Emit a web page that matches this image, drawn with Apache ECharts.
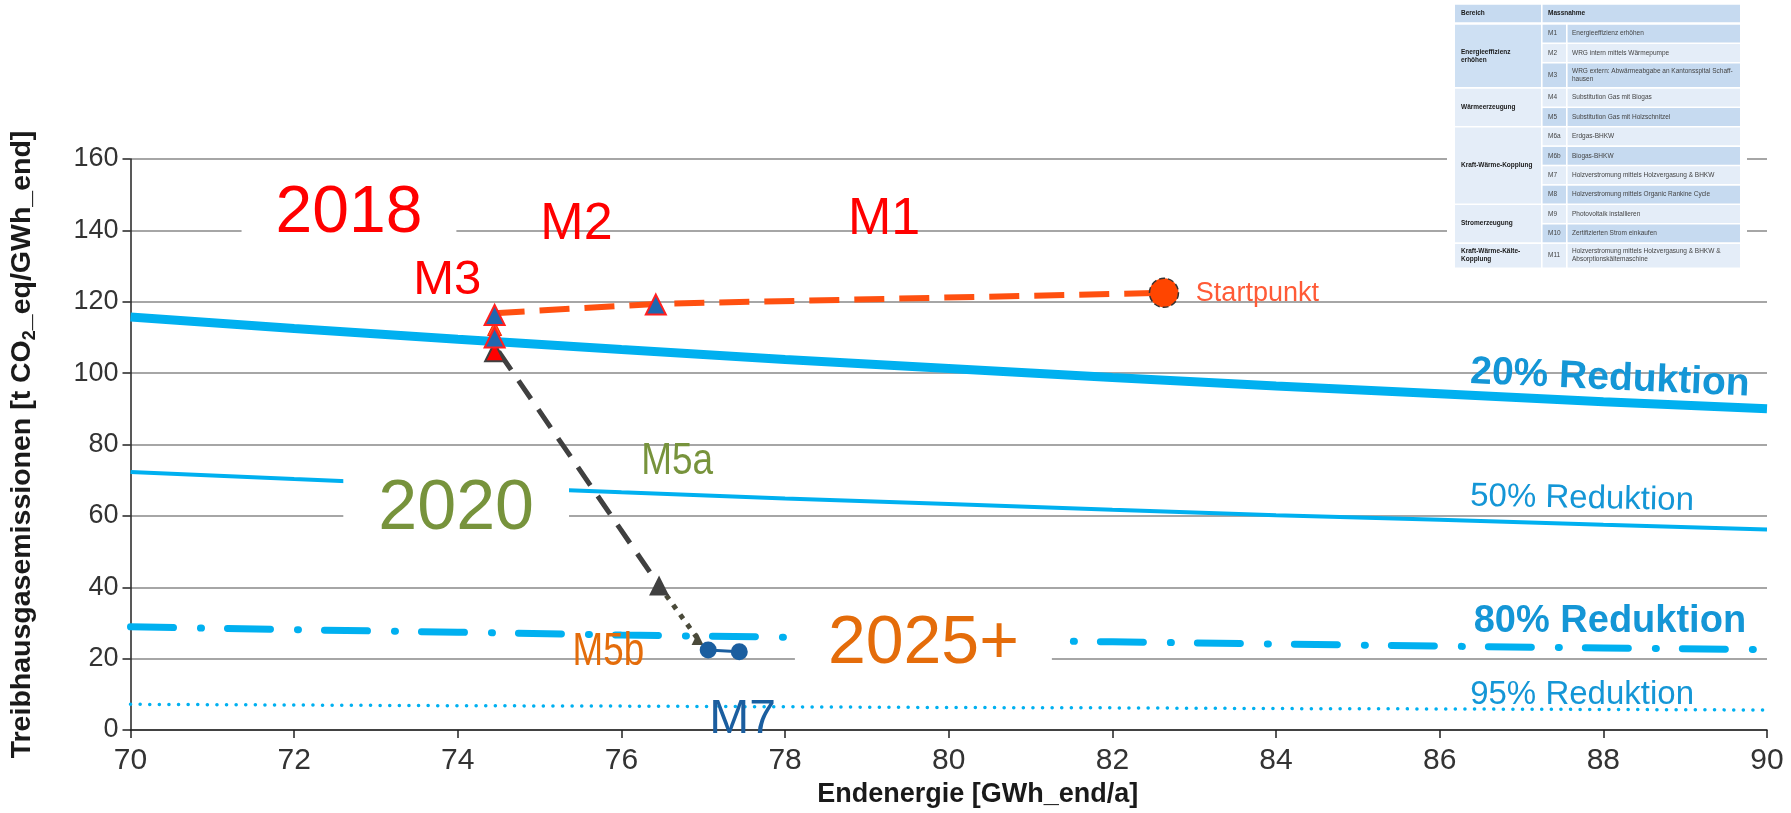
<!DOCTYPE html>
<html><head><meta charset="utf-8">
<script src="https://cdn.jsdelivr.net/npm/echarts@6/dist/echarts.min.js"></script>
<style>html,body{margin:0;padding:0;background:#fff}#c{width:1791px;height:813px}</style>
</head><body><div id="c"></div>
<script>
// ---------- data ----------
const xTicks = [70, 72, 74, 76, 78, 80, 82, 84, 86, 88, 90];
const red20 = [115.7, 112.5, 109.5, 106.6, 103.8, 101.3, 98.8, 96.4, 94.2, 92.0, 90.0];
const red50 = [72.3, 70.3, 68.4, 66.6, 64.9, 63.3, 61.7, 60.2, 58.9, 57.5, 56.2];
const red80 = [28.9, 28.1, 27.4, 26.6, 26.0, 25.3, 24.7, 24.1, 23.5, 23.0, 22.5];
const red95 = [7.2, 7.0, 6.8, 6.7, 6.5, 6.3, 6.2, 6.0, 5.9, 5.75, 5.6];

const path2018X = [74.45, 76.42, 82.63];
const path2018Y = [116.8, 119.4, 122.5];
const path2020X = [74.5, 76.46];
const path2020Y = [106, 40.5];
const path2025X = [76.46, 76.95];
const path2025Y = [40.5, 25];
const pathM7X = [77.06, 77.44];
const pathM7Y = [22.4, 21.9];

const startPoint = [82.63, 122.5];
const blueTriX = [76.42, 74.45, 74.45];
const blueTriY = [119.2, 116.3, 110.0];
const orangeMark = [74.45, 112.5];
const redTri = [74.45, 106];
const grayTri = [76.46, 40.5];
const smallTri = [76.93, 25.5];
const circleX = [77.06, 77.44];
const circleY = [22.4, 21.9];

// annotation texts and anchors (data coordinates)
const annoText = ['2018', 'M2', 'M1', 'M3', 'Startpunkt', '20% Reduktion', '50% Reduktion',
  '80% Reduktion', '95% Reduktion', 'M5a', '2020', '2025+', 'M5b', 'M7'];
const annoX = [72.67, 75.45, 79.21, 73.87, 83.02, 88.08, 87.74, 88.08, 87.74, 76.68, 73.98, 79.69, 75.84, 77.48];
const annoY = [144.7, 141.7, 143.1, 125.9, 122.3, 98.5, 64.8, 30.3, 9.8, 75.0, 61.7, 24.1, 21.9, 2.8];

// table (Massnahmen)
const tableHead = ['Bereich', 'Massnahme'];
const tableGroups = ['Energieeffizienz\nerhöhen', 'Wärmeerzeugung', 'Kraft-Wärme-Kopplung', 'Stromerzeugung', 'Kraft-Wärme-Kälte-\nKopplung'];
const tableGroupSize = [3, 2, 4, 2, 1];
const tableCodes = ['M1', 'M2', 'M3', 'M4', 'M5', 'M6a', 'M6b', 'M7', 'M8', 'M9', 'M10', 'M11'];
const tableDesc = ['Energieeffizienz erhöhen', 'WRG intern mittels Wärmepumpe',
  'WRG extern: Abwärmeabgabe an Kantonsspital Schaff-\nhausen', 'Substitution Gas mit Biogas',
  'Substitution Gas mit Holzschnitzel', 'Erdgas-BHKW', 'Biogas-BHKW',
  'Holzverstromung mittels Holzvergasung & BHKW', 'Holzverstromung mittels Organic Rankine Cycle',
  'Photovoltaik installieren', 'Zertifizierten Strom einkaufen',
  'Holzverstromung mittels Holzvergasung & BHKW &\nAbsorptionskältemaschine'];

// ---------- styles / helpers ----------
const FONT = '"Liberation Sans", Arial, sans-serif';
const BLUE = '#00B0F0';
const pairs = (xs, ys) => xs.map((x, i) => [x, ys[i]]);

const annoStyle = [
  {color: '#FF0000', fontSize: 66, backgroundColor: '#fff', padding: [0, 34]},
  {color: '#FF0000', fontSize: 52},
  {color: '#FF0000', fontSize: 52},
  {color: '#FF0000', fontSize: 49},
  {color: '#FF5A36', fontSize: 27, align: 'left'},
  {color: '#1496D6', fontSize: 39, fontWeight: 'bold', rotate: -2.6},
  {color: '#1496D6', fontSize: 33, rotate: -1.2},
  {color: '#1496D6', fontSize: 38, fontWeight: 'bold'},
  {color: '#1496D6', fontSize: 33},
  {color: '#77933C', fontSize: 44, scaleX: 0.84},
  {color: '#77933C', fontSize: 70, backgroundColor: '#fff', padding: [0, 35]},
  {color: '#E46C0A', fontSize: 68, backgroundColor: '#fff', padding: [0, 33]},
  {color: '#E46C0A', fontSize: 46, scaleX: 0.8},
  {color: '#1B5E9F', fontSize: 48}
];

// ---------- table graphic ----------
function buildTable() {
  const L = 1455, C1 = 1541, C2 = 1566, R = 1740, G = 1.6;
  const els = [];
  const dark = '#C6DAF0', light = '#E4EDF8';
  const txt = (x, y, s, bold) => ({type: 'text', x, y, z: 41, silent: true, style: {
    text: s, font: (bold ? 'bold ' : '') + '6.5px ' + FONT, fill: bold ? '#1A1A1A' : '#444',
    verticalAlign: 'middle', lineHeight: 8}});
  const box = (x, y, w, h, fill) => ({type: 'rect', z: 40, silent: true, shape: {x, y, width: w, height: h}, style: {fill}});
  els.push({type: 'rect', z: 39, silent: true, shape: {x: 1447, y: 1, width: 300, height: 271}, style: {fill: '#fff'}});
  // header
  els.push(box(L, 4.7, C1 - L, 17.6, dark));
  els.push(box(C1 + G, 4.7, R - C1 - G, 17.6, dark));
  els.push(txt(L + 6, 13.5, tableHead[0], true));
  els.push(txt(C1 + 7, 13.5, tableHead[1], true));
  let y = 24.7;
  const rowTop = [], rowH = [];
  tableCodes.forEach((c, i) => {
    const h = tableDesc[i].indexOf('\n') >= 0 ? 25.2 : 19.4;
    rowTop.push(y); rowH.push(h);
    const fill = i % 2 === 0 ? dark : light;
    els.push(box(C1 + G, y, C2 - C1 - G, h - G, fill));
    els.push(box(C2 + G, y, R - C2 - G, h - G, fill));
    els.push(txt(C1 + 7, y + (h - G) / 2, c, false));
    els.push(txt(C2 + 6, y + (h - G) / 2, tableDesc[i], false));
    y += h;
  });
  let r = 0;
  tableGroups.forEach((g, gi) => {
    const top = rowTop[r];
    const last = r + tableGroupSize[gi] - 1;
    const bottom = rowTop[last] + rowH[last] - G;
    els.push(box(L, top, C1 - L, bottom - top, gi === 0 ? '#CEE0F3' : light));
    els.push(txt(L + 6, (top + bottom) / 2, g, true));
    r = last + 1;
  });
  return els;
}

// ---------- chart ----------
const chart = echarts.init(document.getElementById('c'), null, {renderer: 'canvas'});
const lineBase = {type: 'line', showSymbol: false, symbol: 'none', silent: true, animation: false};
const sc = (o) => Object.assign({type: 'scatter', silent: true, z: 4}, o);

chart.setOption({
  animation: false,
  backgroundColor: '#fff',
  grid: {left: 129, right: 24, top: 159, bottom: 83},
  xAxis: {
    type: 'value', min: 70, max: 90, interval: 2,
    name: 'Endenergie [GWh_end/a]', nameLocation: 'middle', nameGap: 50,
    nameTextStyle: {fontFamily: FONT, fontSize: 27, fontWeight: 'bold', color: '#1A1A1A', padding: [0, 0, 0, 58]},
    axisLine: {show: true, onZero: false, lineStyle: {color: '#222', width: 1.5}},
    axisTick: {show: true, length: 8, lineStyle: {color: '#222', width: 1.5}},
    axisLabel: {fontFamily: FONT, fontSize: 30, color: '#333', margin: 16,
      formatter: v => xTicks.indexOf(v) >= 0 ? String(v) : ''},
    splitLine: {show: false}
  },
  yAxis: {
    type: 'value', min: 0, max: 160, interval: 20,
    name: '{a|Treibhausgasemissionen [t CO}{s|2}{a|_eq/GWh_end]}', nameLocation: 'middle', nameGap: 91, nameRotate: 90,
    nameTextStyle: {rich: {
      a: {fontFamily: FONT, fontSize: 28.5, fontWeight: 'bold', color: '#1A1A1A', lineHeight: 34},
      s: {fontFamily: FONT, fontSize: 18, fontWeight: 'bold', color: '#1A1A1A', lineHeight: 18, verticalAlign: 'bottom'}
    }},
    axisLine: {show: true, onZero: false, lineStyle: {color: '#222', width: 1.5}},
    axisTick: {show: true, length: 8, lineStyle: {color: '#222', width: 1.5}},
    axisLabel: {fontFamily: FONT, fontSize: 27, color: '#333', margin: 12},
    splitLine: {show: true, lineStyle: {color: '#A6A6A6', width: 1.8}}
  },
  series: [
    Object.assign({}, lineBase, {name: '20%', z: 2, data: pairs(xTicks, red20), lineStyle: {color: BLUE, width: 9}}),
    Object.assign({}, lineBase, {name: '50%', z: 2, data: pairs(xTicks, red50), lineStyle: {color: BLUE, width: 4}}),
    Object.assign({}, lineBase, {name: '80%', z: 2, data: pairs(xTicks, red80),
      lineStyle: {color: BLUE, width: 7, type: [43, 27, 1, 26], cap: 'round'}}),
    Object.assign({}, lineBase, {name: '95%', z: 2, data: pairs(xTicks, red95),
      lineStyle: {color: BLUE, width: 3.5, type: [0.1, 9.5], cap: 'round'}}),
    Object.assign({}, lineBase, {name: 'p2018', z: 3, data: pairs(path2018X, path2018Y),
      lineStyle: {color: '#FF5010', width: 6, type: [30, 15]}}),
    Object.assign({}, lineBase, {name: 'p2020', z: 3, data: pairs(path2020X, path2020Y),
      lineStyle: {color: '#404040', width: 5, type: [22, 13]}}),
    Object.assign({}, lineBase, {name: 'p2025', z: 3, data: pairs(path2025X, path2025Y),
      lineStyle: {color: '#4A4A3A', width: 5, type: [5, 7]}}),
    Object.assign({}, lineBase, {name: 'pM7', z: 3, data: pairs(pathM7X, pathM7Y),
      lineStyle: {color: '#1B5E9F', width: 3}}),
    sc({symbol: 'triangle', symbolSize: 14,
      itemStyle: {opacity: 1, color: '#FF5A1F', borderColor: '#FF2000', borderWidth: 1}, data: [orangeMark]}),
    sc({symbol: 'triangle', symbolSize: 19,
      itemStyle: {opacity: 1, color: '#FF0000', borderColor: '#404040', borderWidth: 2}, data: [redTri]}),
    sc({z: 5, symbol: 'triangle', symbolSize: 20,
      itemStyle: {opacity: 1, color: '#1F68B0', borderColor: '#FF2020', borderWidth: 2}, data: pairs(blueTriX, blueTriY)}),
    sc({symbol: 'triangle', symbolSize: 20, itemStyle: {opacity: 1, color: '#404040'}, data: [grayTri]}),
    sc({symbol: 'triangle', symbolSize: 12, itemStyle: {opacity: 1, color: '#4A4A3A'}, data: [smallTri]}),
    sc({symbol: 'circle', symbolSize: 17, itemStyle: {opacity: 1, color: '#1B5E9F'}, data: pairs(circleX, circleY)}),
    sc({symbol: 'circle', symbolSize: 29,
      itemStyle: {opacity: 1, color: '#FF4500', borderColor: '#333', borderWidth: 1.5, borderType: 'dashed'}, data: [startPoint]})
  ]
});

// annotations placed through the grid's coordinate system
const annoEls = annoText.map((t, i) => {
  const p = chart.convertToPixel({gridIndex: 0}, [annoX[i], annoY[i]]);
  const s = annoStyle[i];
  const st = {text: t, font: (s.fontWeight ? 'bold ' : '') + s.fontSize + 'px ' + FONT, fill: s.color,
    align: s.align || 'center', verticalAlign: 'middle'};
  if (s.backgroundColor) { st.backgroundColor = s.backgroundColor; st.padding = s.padding; }
  return {type: 'text', x: p[0], y: p[1], z: 30, silent: true,
    rotation: (s.rotate || 0) * Math.PI / 180, scaleX: s.scaleX || 1, style: st};
});
chart.setOption({graphic: buildTable().concat(annoEls)});
</script></body></html>
